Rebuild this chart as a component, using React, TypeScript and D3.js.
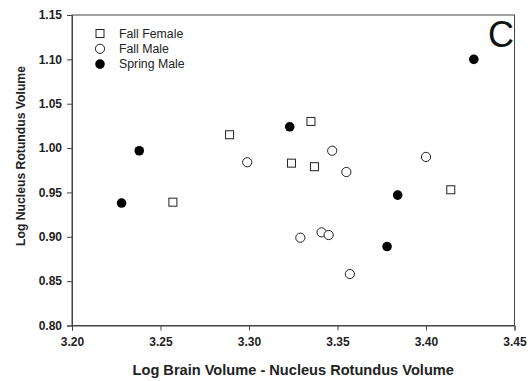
import React, { useRef, useEffect } from "react";
import * as d3 from "d3";

// values
const fallFemaleX = [3.257, 3.289, 3.324, 3.335, 3.337, 3.414];
const fallFemaleY = [0.939, 1.015, 0.983, 1.030, 0.979, 0.953];

const fallMaleX = [3.299, 3.329, 3.341, 3.345, 3.347, 3.355, 3.357, 3.400];
const fallMaleY = [0.984, 0.899, 0.905, 0.902, 0.997, 0.973, 0.858, 0.990];

const springMaleX = [3.228, 3.238, 3.323, 3.378, 3.384, 3.427];
const springMaleY = [0.938, 0.997, 1.024, 0.889, 0.947, 1.100];

const xTicks = [3.2, 3.25, 3.3, 3.35, 3.4, 3.45];
const yTicks = [0.8, 0.85, 0.9, 0.95, 1.0, 1.05, 1.1, 1.15];
const legendLabels = ["Fall Female", "Fall Male", "Spring Male"];

const App = () => {
    const svgRef = useRef(null);
    const width = 528;
    const height = 381;
    const left = 72, right = 514.5, top = 15, bottom = 325.5;
    const axisColor = "#444";
    const font = "Liberation Sans, Arial, sans-serif";

    useEffect(() => {
        const svg = d3.select(svgRef.current);
        svg.selectAll("*").remove();

        const x = d3.scaleLinear().domain([3.2, 3.45]).range([left, right]);
        const y = d3.scaleLinear().domain([0.8, 1.15]).range([bottom, top]);

        svg.append("rect")
            .attr("width", width).attr("height", height).attr("fill", "#fff");

        // frame
        svg.append("rect")
            .attr("x", left).attr("y", top)
            .attr("width", right - left).attr("height", bottom - top)
            .attr("fill", "none").attr("stroke", axisColor).attr("stroke-width", 1);

        const xAxis = svg.append("g")
            .attr("transform", `translate(0,${bottom})`)
            .call(d3.axisBottom(x).tickValues(xTicks).tickFormat(d3.format(".2f")).tickSizeOuter(0).tickSize(5).tickPadding(7));
        const yAxis = svg.append("g")
            .attr("transform", `translate(${left},0)`)
            .call(d3.axisLeft(y).tickValues(yTicks).tickFormat(d3.format(".2f")).tickSizeOuter(0).tickSize(5).tickPadding(5));

        [xAxis, yAxis].forEach(g => {
            g.select(".domain").attr("stroke", axisColor);
            g.selectAll(".tick line").attr("stroke", axisColor);
            g.selectAll(".tick text")
                .attr("fill", "#222")
                .style("font-family", font)
                .style("font-size", "12px")
                .style("font-weight", "bold");
        });

        // axis titles
        svg.append("text")
            .attr("x", (left + right) / 2).attr("y", 375)
            .attr("text-anchor", "middle")
            .style("font-family", font).style("font-size", "14.6px").style("font-weight", "bold")
            .attr("fill", "#222")
            .text("Log Brain Volume - Nucleus Rotundus Volume");
        svg.append("text")
            .attr("transform", `translate(24.5,156) rotate(-90)`)
            .attr("text-anchor", "middle")
            .style("font-family", font).style("font-size", "12.2px").style("font-weight", "bold")
            .attr("fill", "#222")
            .text("Log Nucleus Rotundus Volume");

        // panel letter
        svg.append("text")
            .attr("x", 514).attr("y", 47)
            .attr("text-anchor", "end")
            .style("font-family", font).style("font-size", "36px")
            .attr("fill", "#111")
            .text("C");

        const pts = svg.append("g");
        pts.selectAll("rect.ff")
            .data(fallFemaleX.map((d, i) => [d, fallFemaleY[i]]))
            .join("rect")
            .attr("class", "ff")
            .attr("x", d => x(d[0]) - 4).attr("y", d => y(d[1]) - 4)
            .attr("width", 8).attr("height", 8)
            .attr("fill", "#fff").attr("stroke", "#222").attr("stroke-width", 1);
        pts.selectAll("circle.fm")
            .data(fallMaleX.map((d, i) => [d, fallMaleY[i]]))
            .join("circle")
            .attr("class", "fm")
            .attr("cx", d => x(d[0])).attr("cy", d => y(d[1])).attr("r", 4.6)
            .attr("fill", "#fff").attr("stroke", "#222").attr("stroke-width", 1);
        pts.selectAll("circle.sm")
            .data(springMaleX.map((d, i) => [d, springMaleY[i]]))
            .join("circle")
            .attr("class", "sm")
            .attr("cx", d => x(d[0])).attr("cy", d => y(d[1])).attr("r", 4.8)
            .attr("fill", "#000");

        // legend
        const lg = svg.append("g");
        legendLabels.forEach((label, i) => {
            const cy = 33.5 + i * 15.3;
            if (i === 0) {
                lg.append("rect").attr("x", 96).attr("y", cy - 4).attr("width", 8).attr("height", 8)
                    .attr("fill", "#fff").attr("stroke", "#222");
            } else if (i === 1) {
                lg.append("circle").attr("cx", 100).attr("cy", cy).attr("r", 4.6)
                    .attr("fill", "#fff").attr("stroke", "#222");
            } else {
                lg.append("circle").attr("cx", 100).attr("cy", cy).attr("r", 4.8).attr("fill", "#000");
            }
            lg.append("text")
                .attr("x", 119).attr("y", cy + 4.3)
                .style("font-family", font).style("font-size", "12.3px")
                .attr("fill", "#222")
                .text(label);
        });
    }, []);

    return (
        <svg ref={svgRef} width={width} height={height}
             style={{ position: "absolute", left: 0, top: 0 }} />
    );
};

export default App;
